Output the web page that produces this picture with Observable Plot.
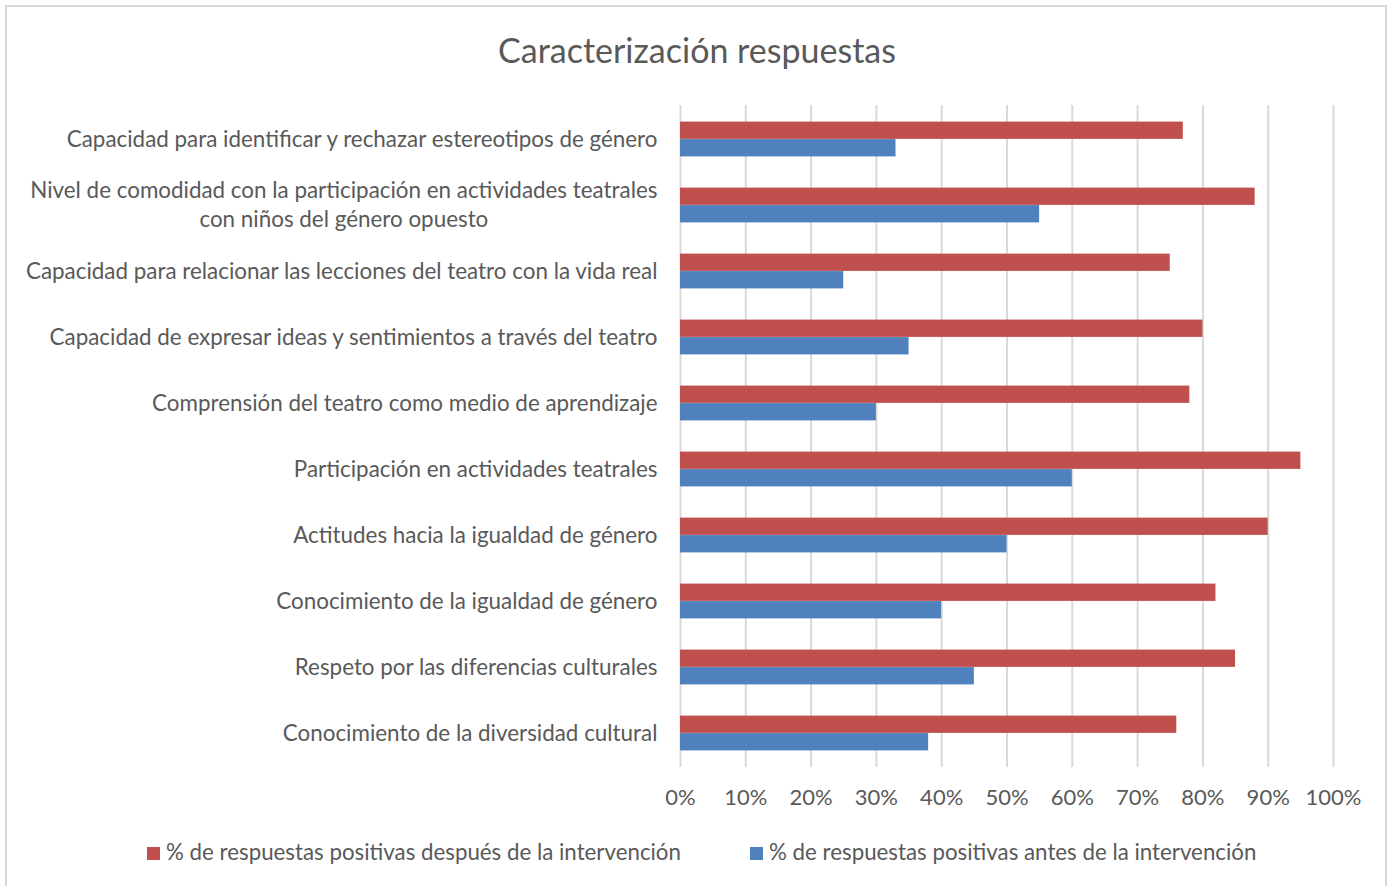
<!DOCTYPE html>
<html>
<head>
<meta charset="utf-8">
<script src="https://cdn.jsdelivr.net/npm/d3@7"></script>
<script src="https://cdn.jsdelivr.net/npm/@observablehq/plot@0.6"></script>
<style>
  html, body { margin: 0; padding: 0; background: #fff; }
  #wrap { position: relative; width: 1394px; height: 886px; overflow: hidden; font-family: Lato, sans-serif; color: #595959; }
  #frame { position: absolute; left: 5px; top: 5px; width: 1382px; height: 900px; border: 2px solid #d9d9d9; box-sizing: border-box; }
  #title { position: absolute; left: 0; width: 1394px; top: 29px; text-align: center; font-size: 34px; line-height: 42px; }
  #chart { position: absolute; left: 0; top: 95px; }
  #legend { position: absolute; top: 838px; left: 0; width: 1394px; font-size: 22.3px; line-height: 28px; }
  .item { position: absolute; top: 0; white-space: nowrap; }
  .sw { display: inline-block; width: 13px; height: 13px; margin-right: 6px; vertical-align: 0px; }
</style>
</head>
<body>
<div id="wrap">
  <div id="frame"></div>
  <div id="title">Caracterización respuestas</div>
  <div id="chart"></div>
  <div id="legend"></div>
</div>
<script>
const categories = [
  "Capacidad para identificar y rechazar estereotipos de género",
  "Nivel de comodidad con la participación en actividades teatrales\ncon niños del género opuesto",
  "Capacidad para relacionar las lecciones del teatro con la vida real",
  "Capacidad de expresar ideas y sentimientos a través del teatro",
  "Comprensión del teatro como medio de aprendizaje",
  "Participación en actividades teatrales",
  "Actitudes hacia la igualdad de género",
  "Conocimiento de la igualdad de género",
  "Respeto por las diferencias culturales",
  "Conocimiento de la diversidad cultural"
];
const seriesNames = [
  "% de respuestas positivas después de la intervención",
  "% de respuestas positivas antes de la intervención"
];
const after  = [0.77, 0.88, 0.75, 0.80, 0.78, 0.95, 0.90, 0.82, 0.85, 0.76];
const before = [0.33, 0.55, 0.25, 0.35, 0.30, 0.60, 0.50, 0.40, 0.45, 0.38];
const xTicks = [0, 0.1, 0.2, 0.3, 0.4, 0.5, 0.6, 0.7, 0.8, 0.9, 1.0];
const colors = ["#C0504D", "#4F81BD"];

const afterRows = categories.map((c, i) => ({cat: c, value: after[i]}));
const beforeRows = categories.map((c, i) => ({cat: c, value: before[i]}));

const FONT = "Lato, sans-serif";
const FS = 22.4;
const ctx = document.createElement("canvas").getContext("2d");
ctx.font = `${FS}px Lato`;
const single = categories.filter(c => !c.includes("\n"));
const multi = categories.filter(c => c.includes("\n"));
const multiW = multi.map(c => Math.max(...c.split("\n").map(s => ctx.measureText(s).width)));

const PAD = 23;
const plot = Plot.plot({
  width: 1394,
  height: 725,
  marginTop: 10,
  marginBottom: 53,
  marginLeft: 680,
  marginRight: 61,
  style: {fontFamily: FONT, fontSize: FS + "px", color: "#595959", background: "transparent"},
  x: {domain: [0, 1], axis: null},
  y: {domain: categories, padding: 0, axis: null},
  marks: [
    Plot.gridX(xTicks, {stroke: "#d9d9d9", strokeOpacity: 1, strokeWidth: 2}),
    Plot.barX(afterRows, {x: "value", y: "cat", fill: colors[0], insetTop: 15.6, insetBottom: 33.1}),
    Plot.barX(beforeRows, {x: "value", y: "cat", fill: colors[1], insetTop: 33.1, insetBottom: 15.6}),
    Plot.axisX(xTicks, {tickSize: 0, tickPadding: 22, tickFormat: d3.format(".0%"), fill: "#595959", fontSize: 22, label: null}),
    Plot.text(single, {y: d => d, frameAnchor: "left", dx: -PAD, textAnchor: "end", fill: "#595959", fontSize: FS}),
    ...multi.map((c, i) => Plot.text([c], {y: d => d, frameAnchor: "left", dx: -PAD - multiW[i] / 2, textAnchor: "middle", lineHeight: 1.28, dy: -2, fill: "#595959", fontSize: FS}))
  ]
});
document.getElementById("chart").appendChild(plot);

const legend = document.getElementById("legend");
const legendX = [147, 750];
seriesNames.forEach((name, i) => {
  const d = document.createElement("div");
  d.className = "item";
  d.style.left = legendX[i] + "px";
  const sw = document.createElement("span");
  sw.className = "sw";
  sw.style.background = colors[i];
  d.appendChild(sw);
  d.appendChild(document.createTextNode(name));
  legend.appendChild(d);
});
</script>
</body>
</html>
